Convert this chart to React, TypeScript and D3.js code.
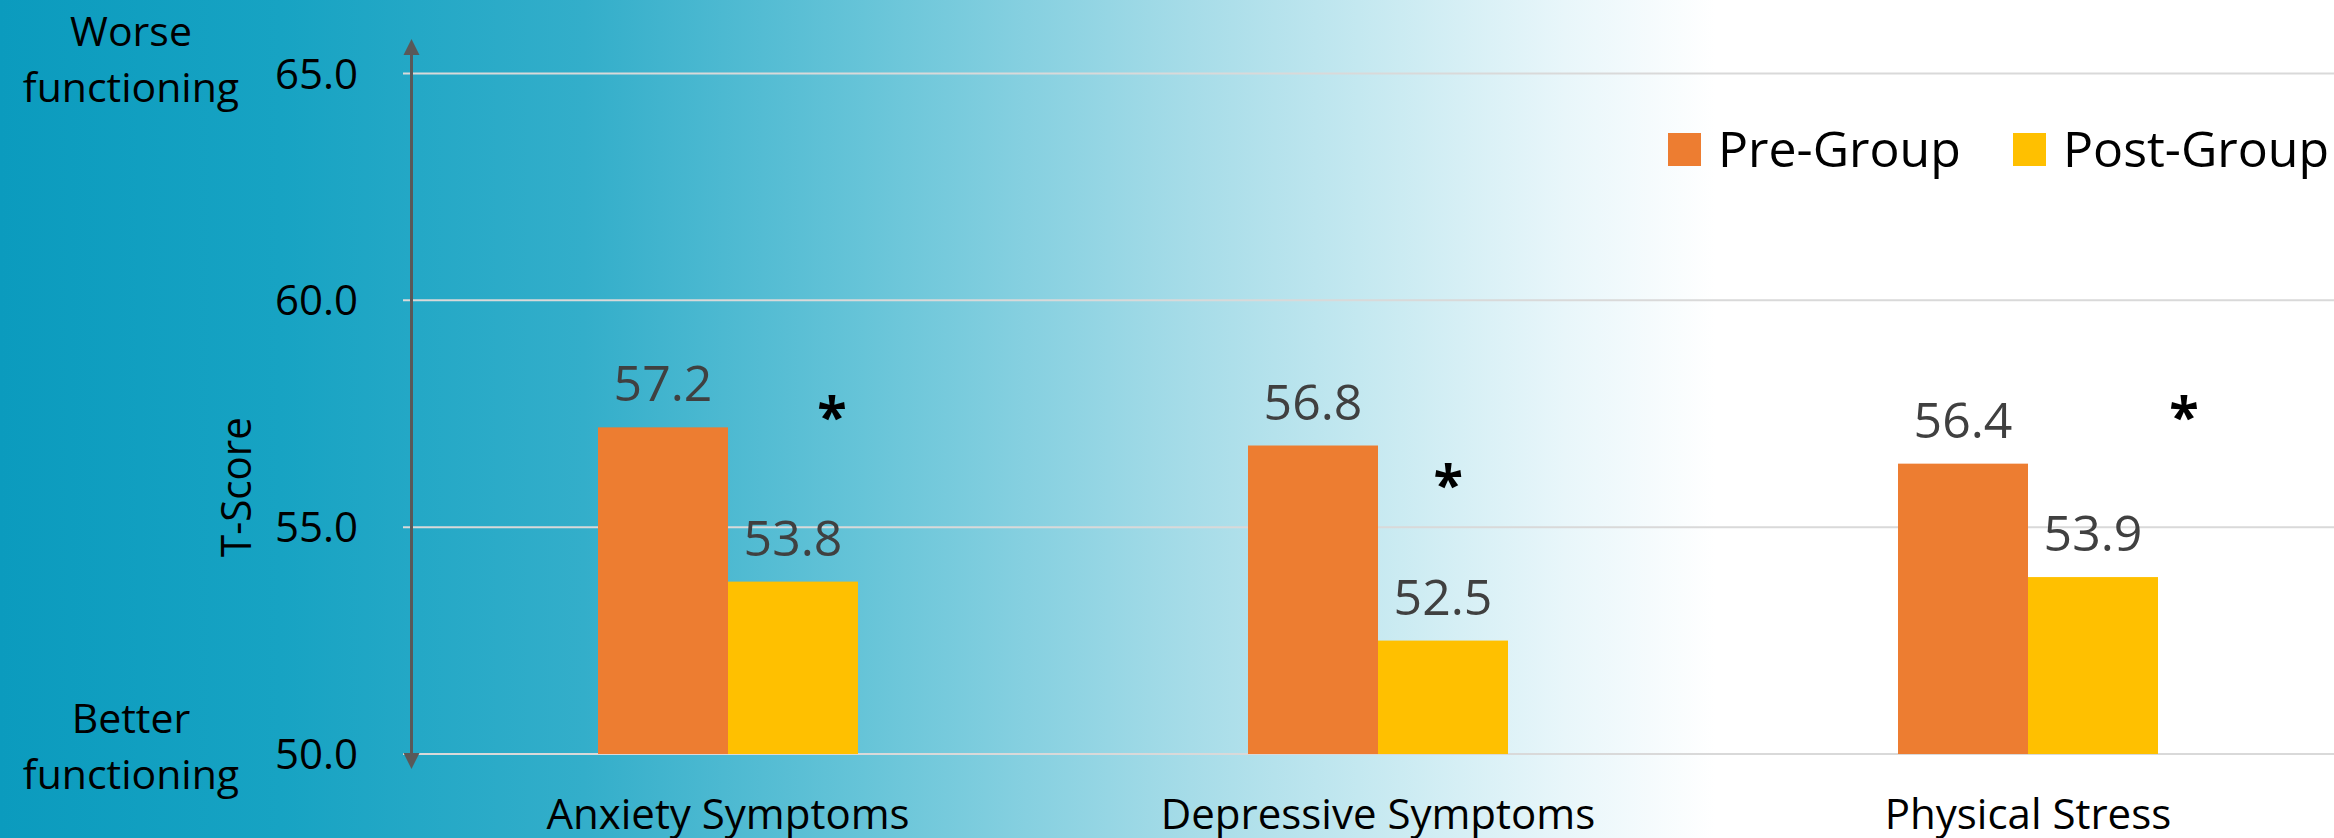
import React from "react";
import * as d3 from "d3";

// chart values
const categories = ["Anxiety Symptoms", "Depressive Symptoms", "Physical Stress"];
const preGroup = [57.2, 56.8, 56.4];
const postGroup = [53.8, 52.5, 53.9];
const seriesNames = ["Pre-Group", "Post-Group"];
const seriesColors = ["#ED7D31", "#FFC000"];
const yTicks = [50, 55, 60, 65];
// significance markers: height in T-score units, horizontal spot as a share of the group width
const starLevel = [57.6, 56.1, 57.6];
const starSpot = [0.9, 0.77, 1.1];

const W = 2334;
const H = 838;
const font = "'Open Sans', 'Noto Sans', sans-serif";

export default function App() {
  const x = d3.scaleBand<string>()
    .domain(categories)
    .range([403, 2353])
    .paddingInner(0.6)
    .paddingOuter(0.3);

  const x1 = d3.scaleBand<string>()
    .domain(seriesNames)
    .range([0, x.bandwidth()]);

  const y = d3.scaleLinear().domain([50, 65]).range([754, 73.5]);

  const color = d3.scaleOrdinal<string, string>().domain(seriesNames).range(seriesColors);

  const rows = categories.map((c, i) => ({ cat: c, vals: [preGroup[i], postGroup[i]] }));

  const axisX = 411.5;

  return (
    <svg width={W} height={H} style={{ position: "absolute", left: 0, top: 0, display: "block" }}
         fontFamily={font}>
      <defs>
        <linearGradient id="bg" x1="0" x2={W} y1="0" y2="0" gradientUnits="userSpaceOnUse">
          <stop offset="0" stopColor="#0B9BBE" />
          <stop offset="0.12" stopColor="#17A3C3" />
          <stop offset="0.25" stopColor="#33AECA" />
          <stop offset="0.37" stopColor="#66C4D8" />
          <stop offset="0.51" stopColor="#A6DCE8" />
          <stop offset="0.6" stopColor="#CBEBF2" />
          <stop offset="0.67" stopColor="#E8F6FA" />
          <stop offset="0.735" stopColor="#FFFFFF" />
          <stop offset="1" stopColor="#FFFFFF" />
        </linearGradient>
      </defs>
      <rect x={0} y={0} width={W} height={H} fill="url(#bg)" />

      {/* gridlines */}
      {yTicks.map(t => (
        <line key={"g" + t} x1={403} x2={W} y1={y(t)} y2={y(t)} stroke="#D9D9D9" strokeWidth={2} />
      ))}

      {/* tick labels */}
      {yTicks.map(t => (
        <text key={"t" + t} x={358} y={y(t)} dy="0.36em" textAnchor="end" fontSize={42} fill="#000">
          {d3.format(".1f")(t)}
        </text>
      ))}

      {/* bars */}
      {rows.map((r, i) => (
        <g key={r.cat} transform={`translate(${x(r.cat)},0)`}>
          {r.vals.map((v, j) => (
            <g key={j}>
              <rect x={x1(seriesNames[j])} y={y(v)} width={x1.bandwidth()} height={y(50) - y(v)}
                    fill={color(seriesNames[j])} />
              <text x={(x1(seriesNames[j]) || 0) + x1.bandwidth() / 2} y={y(v) - 26}
                    textAnchor="middle" fontSize={50} fill="#404040">
                {d3.format(".1f")(v)}
              </text>
            </g>
          ))}
          <text x={x.bandwidth() * starSpot[i]} y={y(starLevel[i]) + 27} textAnchor="middle"
                fontSize={54} fontWeight="bold" fill="#000">*</text>
        </g>
      ))}

      {/* category labels */}
      {categories.map(c => (
        <text key={c} x={(x(c) || 0) + x.bandwidth() / 2} y={829} textAnchor="middle" fontSize={42} fill="#000">
          {c}
        </text>
      ))}

      {/* double-headed arrow along the value axis */}
      <line x1={axisX} x2={axisX} y1={52} y2={756} stroke="#595959" strokeWidth={3} />
      <path d={`M${axisX},39 L${axisX - 8},55 L${axisX + 8},55 Z`} fill="#595959" />
      <path d={`M${axisX},769 L${axisX - 8},753 L${axisX + 8},753 Z`} fill="#595959" />

      {/* side notes */}
      <text x={131} textAnchor="middle" fontSize={41} fill="#000">
        <tspan x={131} y={46}>Worse</tspan>
        <tspan x={131} y={102}>functioning</tspan>
      </text>
      <text x={131} textAnchor="middle" fontSize={41} fill="#000">
        <tspan x={131} y={733}>Better</tspan>
        <tspan x={131} y={789}>functioning</tspan>
      </text>
      <text transform={`translate(251,487) rotate(-90)`} textAnchor="middle" fontSize={42}
            textLength={140} lengthAdjust="spacingAndGlyphs" fill="#000">
        T-Score
      </text>

      {/* legend */}
      {seriesNames.map((s, i) => {
        const lx = [1668, 2013][i];
        return (
          <g key={s}>
            <rect x={lx} y={133} width={33} height={33} fill={color(s)} />
            <text x={lx + 50} y={167} fontSize={50} fill="#000">{s}</text>
          </g>
        );
      })}
    </svg>
  );
}
